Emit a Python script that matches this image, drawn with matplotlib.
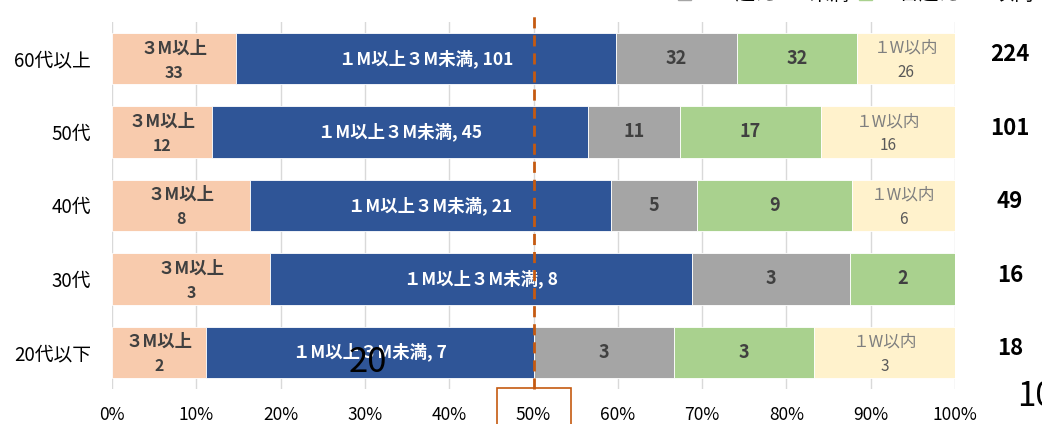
import matplotlib.pyplot as plt
import matplotlib.patches as mpatches
import numpy as np

plt.rcParams['font.family'] = ['Noto Sans CJK JP', 'DejaVu Sans']

# data
groups = ['60代以上', '50代', '40代', '30代', '20代以下']
m3_over = [33, 12, 8, 3, 2]
m1_m3 = [101, 45, 21, 8, 7]
w1_m1 = [32, 11, 5, 3, 3]
d_w1 = [32, 17, 9, 2, 3]
w1_in = [26, 16, 6, 0, 3]
totals = [224, 101, 49, 16, 18]
xticks = [0, 10, 20, 30, 40, 50, 60, 70, 80, 90, 100]
legend_labels = ['１W超え１M未満', '１日超え１W以内']

colors = ['#F8CBAD', '#2F5597', '#A5A5A5', '#A9D18E', '#FFF2CC']
orange = '#C55A11'

series = np.array([m3_over, m1_m3, w1_m1, d_w1, w1_in], dtype=float)
tot = series.sum(axis=0)
pct = series / tot * 100

fig = plt.figure(figsize=(10.42, 4.24), dpi=100)
ax = fig.add_axes([0.1075, 0.0825, 0.809, 0.866])

y = np.arange(len(groups))
left = np.zeros(len(groups))
for i in range(5):
    ax.barh(y, pct[i], left=left, height=0.7, color=colors[i],
            edgecolor='white', linewidth=0.6, zorder=2)
    for j in range(len(groups)):
        v = series[i][j]
        if v == 0:
            continue
        cx = left[j] + pct[i][j] / 2
        if i == 0:
            ax.text(cx, y[j] - 0.14, '３M以上', ha='center', va='center',
                    fontsize=12.5, color='#404040', fontweight='bold', zorder=3)
            ax.text(cx, y[j] + 0.19, '%d' % v, ha='center', va='center',
                    fontsize=11.5, color='#404040', fontweight='bold', zorder=3)
        elif i == 1:
            ax.text(cx, y[j], '１M以上３M未満, %d' % v, ha='center', va='center',
                    fontsize=12.5, color='white', fontweight='bold', zorder=3)
        elif i in (2, 3):
            ax.text(cx, y[j], '%d' % v, ha='center', va='center',
                    fontsize=13, color='#404040', fontweight='bold', zorder=3)
        else:
            ax.text(cx, y[j] - 0.14, '１W以内', ha='center', va='center',
                    fontsize=12, color='#7F7F7F', zorder=3)
            ax.text(cx, y[j] + 0.19, '%d' % v, ha='center', va='center',
                    fontsize=11, color='#595959', zorder=3)
    left += pct[i]

for j in range(len(groups)):
    ax.text(106.5, y[j] - 0.05, str(totals[j]), ha='center', va='center',
            fontsize=16, fontweight='bold', color='black', clip_on=False)

ax.set_xlim(0, 100)
ax.set_ylim(len(groups) - 0.5, -0.5)
ax.set_xticks(xticks)
ax.set_xticklabels(['%d%%' % t for t in xticks], fontsize=12.5)
ax.set_yticks(y)
ax.set_yticklabels(groups, fontsize=13.5)
ax.tick_params(axis='both', length=0)
ax.tick_params(axis='x', pad=12)
ax.tick_params(axis='y', pad=15)
ax.grid(axis='x', color='#D9D9D9', linewidth=1, zorder=0)
for s in ax.spines.values():
    s.set_visible(False)

# 50% marker
ax.plot([50, 50], [len(groups) - 0.5, -0.65], color=orange, linestyle=(0, (4, 2.5)),
        linewidth=2, zorder=4, clip_on=False)
box = mpatches.Rectangle((497 / 1042, -0.01), 74 / 1042, 0.095, transform=fig.transFigure,
                         fill=False, edgecolor=orange, linewidth=1.2)
fig.patches.append(box)

# stray labels
fig.text(368 / 1042, 1 - 362 / 424, '20', ha='center', va='center', fontsize=25)
fig.text(1017 / 1042, 1 - 397 / 424, '10', ha='left', va='center', fontsize=24)

# legend, clipped at top of image
handles = [mpatches.Patch(color=colors[2]), mpatches.Patch(color=colors[3])]
fig.legend(handles, legend_labels, loc='center left', bbox_to_anchor=(660 / 1042, 1.012),
           ncol=2, frameon=False, fontsize=14, handlelength=0.7, handleheight=0.7,
           columnspacing=0.5, handletextpad=0.4)

fig.savefig('out.png', dpi=100)
